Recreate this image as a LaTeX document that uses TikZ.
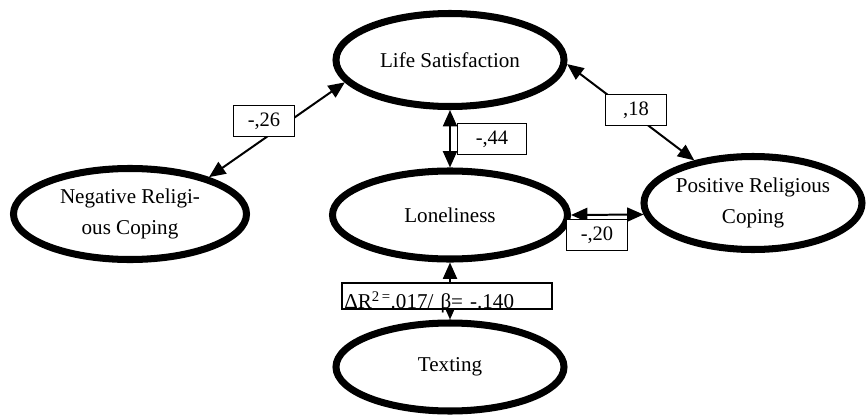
\documentclass[tikz,border=0pt]{standalone}
\usepackage{fontspec}
\setmainfont{Liberation Serif}
\usetikzlibrary{shapes.geometric,arrows.meta}
\tikzset{
  latent/.style={ellipse,draw,line width=6pt,inner sep=0pt,align=center,
    font=\fontsize{18}{26}\selectfont},
  coef/.style={draw,fill=white,line width=1.5pt,minimum width=1.83cm,
    minimum height=0.93cm,inner sep=1pt,font=\fontsize{17.5}{20}\selectfont},
  link/.style={line width=1.7pt,
    {Triangle[length=14pt,width=12pt]}-{Triangle[length=14pt,width=12pt]}}
}
\begin{document}
\begin{tikzpicture}[x=0.03cm,y=-0.03cm]
\useasboundingbox (0,0) rectangle (866,416);

\node[latent,minimum width=6.84cm,minimum height=2.79cm] (life) at (450,60) {Life Satisfaction};
\node[latent,minimum width=6.99cm,minimum height=2.73cm] (neg) at (130,214) {Negative Religi-\\ ous Coping};
\node[latent,minimum width=7.05cm,minimum height=2.64cm] (lonely) at (450,215) {Loneliness};
\node[latent,minimum width=6.54cm,minimum height=2.79cm] (pos) at (753,203) {Positive Religious\\ Coping};
\node[latent,minimum width=6.84cm,minimum height=2.64cm] (texting) at (450,367) {Texting};

\draw[link] (neg.25) -- (life.192);
\draw[link] (life.358) -- (pos.144);
\draw[link] (life.south) -- (lonely.north);
\draw[link] (lonely.east) -- (pos.186);
\draw[link] (lonely.south) -- (texting.north);

\node[coef] (w26) at (264,121) {-,26};
\node[coef] (w18) at (636,110) {,18};
\node[coef,minimum width=2.07cm] (w44) at (492,139) {-,44};
\node[coef] (w20) at (597,235) {-,20};
\node[draw,fill=white,line width=1.5pt,text width=6.16cm,align=left,inner xsep=0.06cm,
  inner ysep=0pt,text height=0.76cm,text depth=0pt,font=\fontsize{18}{20}\selectfont]
  (dr) at (447,296) {ΔR\textsuperscript{2\,=}.017/ β= -.140};
\end{tikzpicture}
\end{document}
